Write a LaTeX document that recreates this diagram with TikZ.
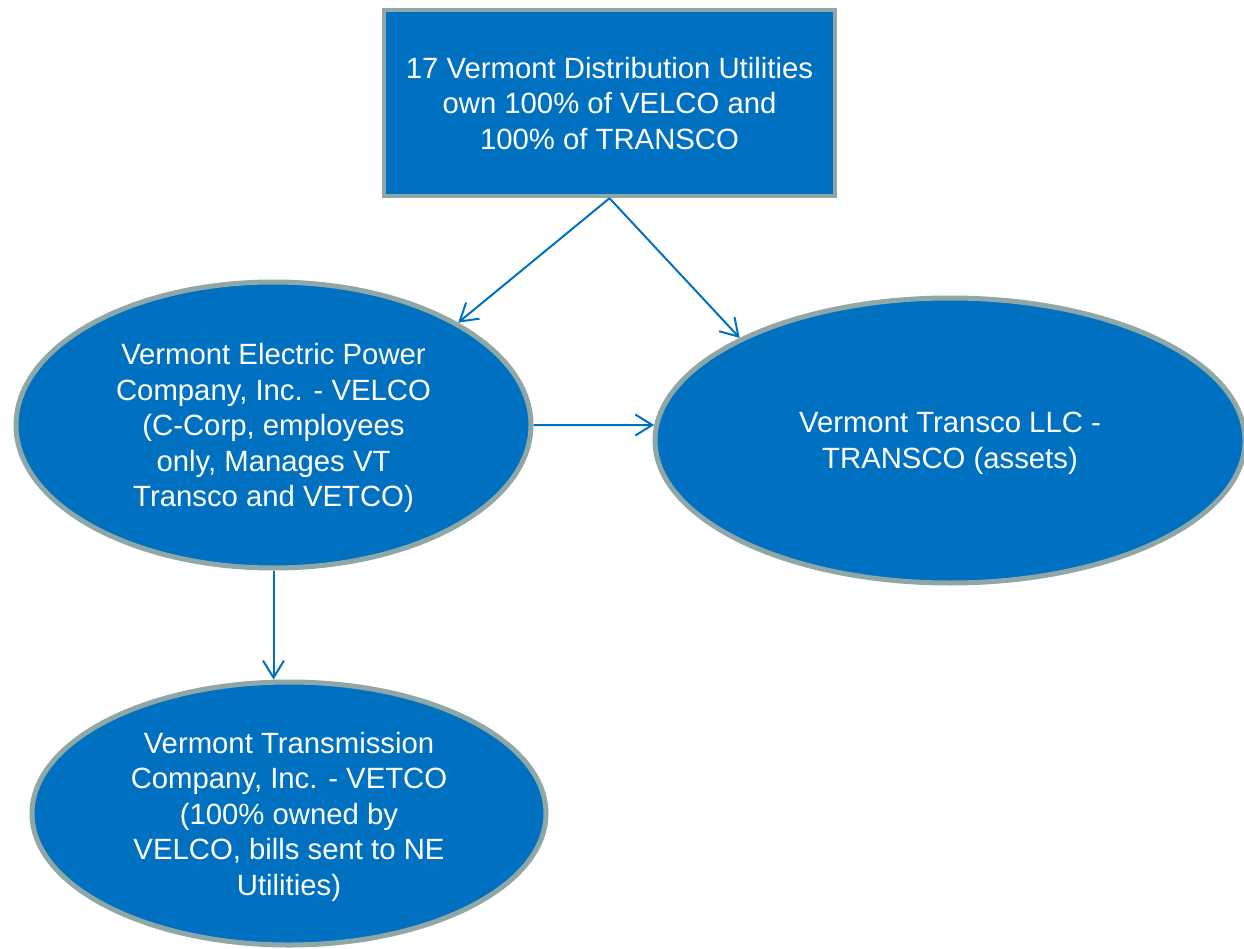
\documentclass[tikz,border=0pt]{standalone}
\usepackage{fontspec}
\setmainfont{Liberation Sans}
\usepackage{xcolor}
\usepackage{tikz}
\usetikzlibrary{arrows.meta,positioning,shapes.geometric}
\definecolor{velcoblue}{HTML}{0070C0}
\definecolor{rimgray}{HTML}{8FA7A7}
\tikzset{
  owner/.style={rectangle, draw=rimgray, line width=4.5pt, fill=velcoblue, text=white, align=center, minimum width=451pt, minimum height=186pt, inner sep=2pt, font=\fontsize{29.3}{35.5}\selectfont, text depth=-10pt},
  entity/.style={ellipse, draw=rimgray, line width=5pt, fill=velcoblue, text=white, align=center, inner sep=2pt, font=\fontsize{29.3}{35.5}\selectfont, text depth=-10pt},
  link/.style={-{Straight Barb[length=17pt, width=21pt, line width=2pt]}, line width=2pt, draw=velcoblue},
}

\begin{document}
\begin{tikzpicture}[x=1pt, y=-1pt]
  \useasboundingbox (0,0) rectangle (1244,949);
  \node[owner] (dist) at (609.5,103) {17 Vermont Distribution Utilities\\own 100\% of VELCO and\\100\% of TRANSCO};
  \node[entity, minimum width=515pt, minimum height=286pt] (velco) at (273.5,425) {Vermont Electric Power\\Company, Inc. - VELCO\\(C-Corp, employees\\only, Manages VT\\Transco and VETCO)};
  \node[entity, minimum width=590pt, minimum height=285pt] (transco) at (950,440.5) {Vermont Transco LLC -\\TRANSCO (assets)};
  \node[entity, minimum width=514pt, minimum height=263pt] (vetco) at (289,813.5) {Vermont Transmission\\Company, Inc. - VETCO\\(100\% owned by\\VELCO, bills sent to NE\\Utilities)};
  \draw[link] (dist.south) -- (velco.29);
  \draw[link] (dist.south) -- (transco.154);
  \draw[link] (velco.east) -- (transco.177);
  \draw[link] (velco.south) -- (velco.south |- vetco.north);
\end{tikzpicture}
\end{document}
